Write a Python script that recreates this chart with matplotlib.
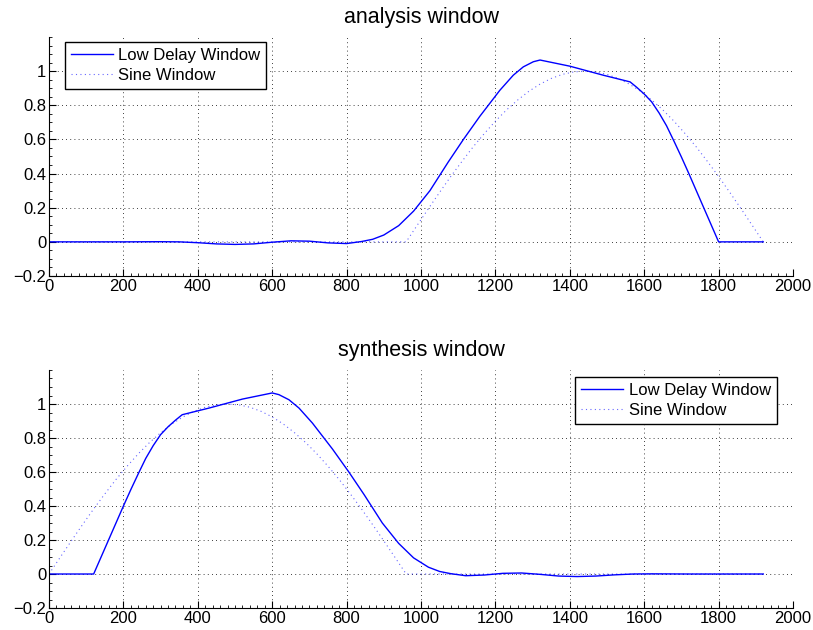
import numpy as np
import matplotlib
matplotlib.use('Agg')
import matplotlib.pyplot as plt
from matplotlib.ticker import AutoMinorLocator

plt.rcParams['font.family'] = ['Liberation Sans', 'DejaVu Sans']

# low delay analysis window
ld_x = [0, 100, 200, 300, 350, 400, 450, 500, 550, 600, 650, 700, 750, 800,
        840, 870, 900, 940, 980, 1024, 1073, 1114, 1158, 1212, 1248, 1275,
        1302, 1320, 1360, 1400, 1490, 1562, 1580, 1600, 1620, 1640, 1660,
        1680, 1700, 1720, 1740, 1760, 1780, 1800, 1920]
ld_y = [0, 0, 0, 0.001, 0, -0.005, -0.012, -0.015, -0.012, -0.002, 0.006,
        0.004, -0.006, -0.01, 0.002, 0.015, 0.04, 0.095, 0.18, 0.30, 0.467,
        0.60, 0.735, 0.888, 0.976, 1.025, 1.055, 1.065, 1.047, 1.029, 0.976,
        0.937, 0.905, 0.866, 0.82, 0.755, 0.68, 0.59, 0.497, 0.4, 0.3, 0.2,
        0.1, 0.0, 0.0]

# sine window (second half of the frame)
sw_x = [0, 960, 990, 1020, 1050, 1080, 1110, 1140, 1170, 1200, 1230, 1260,
        1290, 1320, 1350, 1380, 1410, 1440, 1470, 1500, 1530, 1560, 1590,
        1620, 1650, 1680, 1710, 1740, 1770, 1800, 1830, 1860, 1890, 1920]
sw_y = [0, 0, 0.098, 0.195, 0.290, 0.383, 0.471, 0.556, 0.634, 0.707, 0.773,
        0.831, 0.882, 0.924, 0.957, 0.981, 0.995, 1.0, 0.995, 0.981, 0.957,
        0.924, 0.882, 0.831, 0.773, 0.707, 0.634, 0.556, 0.471, 0.383, 0.290,
        0.195, 0.098, 0]

xticks = [0, 200, 400, 600, 800, 1000, 1200, 1400, 1600, 1800, 2000]
yticks = [-0.2, 0, 0.2, 0.4, 0.6, 0.8, 1]
ytick_labels = ['\u22120.2', '0', '0.2', '0.4', '0.6', '0.8', '1']

fig = plt.figure(figsize=(8.13, 6.3), dpi=100)
ax1 = fig.add_axes([0.0603, 0.5619, 0.9151, 0.3794])
ax2 = fig.add_axes([0.0603, 0.0349, 0.9151, 0.3778])

# synthesis window is the time reversed analysis window
syn_ld_x = [1920 - v for v in ld_x[::-1]]
syn_ld_y = ld_y[::-1]
syn_sw_x = [1920 - v for v in sw_x[::-1]]
syn_sw_y = sw_y[::-1]

panels = [
    (ax1, 'analysis window', ld_x, ld_y, sw_x, sw_y,
     dict(loc='upper left', bbox_to_anchor=(0.0215, 0.979))),
    (ax2, 'synthesis window', syn_ld_x, syn_ld_y, syn_sw_x, syn_sw_y,
     dict(loc='upper right', bbox_to_anchor=(0.978, 0.97))),
]

for ax, title, lx, ly, sx, sy, leg in panels:
    ax.plot(lx, ly, color='#0000ff', lw=1.0, label='Low Delay Window')
    ax.plot(sx, sy, color='#0000ff', lw=0.8, ls=(0, (1, 3)), alpha=0.6,
            label='Sine Window')
    ax.set_xlim(0, 2000)
    ax.set_ylim(-0.2, 1.2)
    ax.set_xticks(xticks)
    ax.set_yticks(yticks)
    ax.set_yticklabels(ytick_labels)
    ax.yaxis.set_minor_locator(AutoMinorLocator(4))
    ax.xaxis.set_minor_locator(AutoMinorLocator(10))
    ax.tick_params(direction='in', labelsize=12, length=5, width=0.8, pad=2)
    ax.tick_params(which='minor', direction='in', length=2.5, width=0.6)
    ax.grid(True, color='black', ls=(0, (1, 4)), lw=0.6)
    for s in ['top', 'right']:
        ax.spines[s].set_visible(False)
    ax.set_title(title, fontsize=15.5, pad=10)
    lg = ax.legend(fancybox=False, edgecolor='black', framealpha=1,
                   fontsize=12, borderaxespad=0, handlelength=2.5,
                   handletextpad=0.35, borderpad=0.35, labelspacing=0.3,
                   **leg)
    lg.get_frame().set_linewidth(1.0)

fig.savefig('out.png', dpi=100)
